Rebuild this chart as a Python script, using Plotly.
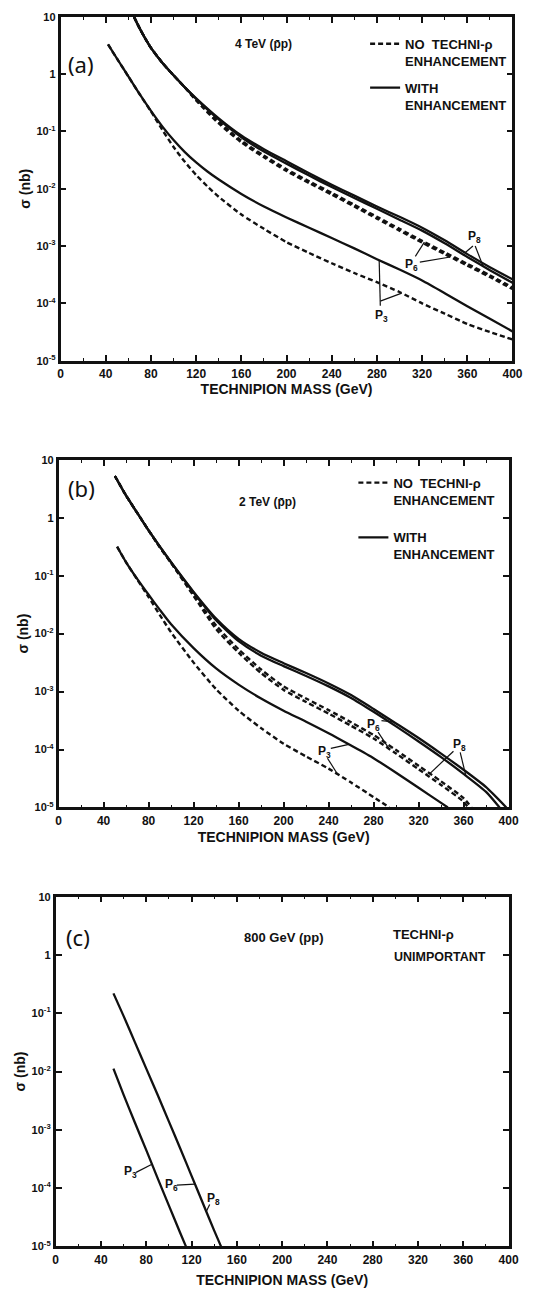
import numpy as np
import plotly.graph_objects as go

# ---------------- data: technipion pair cross sections, sigma in nb vs mass in GeV
# (a) 4 TeV  pbar-p
mass_a_hi = [65, 70, 75, 80, 90, 100, 110, 120, 140, 160, 180, 200, 220, 240, 260, 280, 300, 320, 340,
             360, 380, 400]
sig_a_p8_with = [10, 6.31, 4.17, 2.88, 1.585, 0.955, 0.589, 0.380, 0.170, 0.0851, 0.0490, 0.0302, 0.0186,
                 0.0117, 0.00759, 0.00490, 0.00324, 0.00209, 0.00126, 7.24e-4, 4.27e-4, 2.63e-4]
sig_a_p6_with = [10, 6.31, 4.17, 2.88, 1.585, 0.955, 0.589, 0.372, 0.162, 0.0794, 0.0447, 0.0275, 0.0170,
                 0.0107, 0.00692, 0.00447, 0.00288, 0.00186, 0.00112, 6.46e-4, 3.80e-4, 2.29e-4]
sig_a_p8_no = [10, 6.31, 4.17, 2.88, 1.585, 0.955, 0.589, 0.355, 0.148, 0.0692, 0.0380, 0.0219, 0.0135,
               0.00851, 0.00525, 0.00324, 0.00200, 0.00123, 7.76e-4, 4.90e-4, 3.09e-4, 1.91e-4]
sig_a_p6_no = [10, 6.31, 4.17, 2.88, 1.585, 0.955, 0.589, 0.347, 0.138, 0.0646, 0.0355, 0.0204, 0.0126,
               0.00794, 0.00490, 0.00302, 0.00186, 0.00115, 7.24e-4, 4.57e-4, 2.88e-4, 1.78e-4]
mass_a_lo = [42, 50, 60, 70, 80, 90, 100, 110, 120, 130, 140, 160, 180, 200, 220, 240, 260, 280, 300, 320,
             340, 360, 380, 400]
sig_a_p3_with = [3.31, 1.86, 0.912, 0.447, 0.229, 0.123, 0.0708, 0.0437, 0.0288, 0.0200, 0.0145, 0.00813,
                 0.00490, 0.00316, 0.00209, 0.00138, 9.12e-4, 5.89e-4, 3.89e-4, 2.51e-4, 1.51e-4, 8.91e-5,
                 5.37e-5, 3.24e-5]
sig_a_p3_no = [3.31, 1.86, 0.912, 0.447, 0.224, 0.107, 0.0537, 0.0295, 0.0174, 0.0110, 0.00724, 0.00355,
               0.00200, 0.00117, 7.59e-4, 5.01e-4, 3.39e-4, 2.34e-4, 1.58e-4, 1.00e-4, 6.61e-5, 4.37e-5,
               3.16e-5, 2.34e-5]

# (b) 2 TeV  pbar-p
mass_b_p8_with = [50, 60, 70, 80, 90, 100, 120, 140, 160, 180, 200, 220, 240, 260, 280, 300, 320, 340, 360,
                  380, 398]
sig_b_p8_with = [5.25, 2.40, 1.20, 0.603, 0.316, 0.170, 0.0525, 0.0182, 0.00813, 0.00468, 0.00309, 0.00209,
                 0.00138, 8.71e-4, 5.01e-4, 2.82e-4, 1.58e-4, 8.51e-5, 4.47e-5, 2.24e-5, 1.0e-5]
mass_b_p6_with = [50, 60, 70, 80, 90, 100, 120, 140, 160, 180, 200, 220, 240, 260, 280, 300, 320, 340, 360,
                  380, 392]
sig_b_p6_with = [5.25, 2.40, 1.20, 0.603, 0.316, 0.170, 0.0513, 0.0170, 0.00741, 0.00417, 0.00275, 0.00186,
                 0.00123, 7.76e-4, 4.47e-4, 2.51e-4, 1.38e-4, 7.41e-5, 3.80e-5, 1.86e-5, 1.0e-5]
mass_b_p8_no = [50, 60, 70, 80, 90, 100, 120, 140, 160, 180, 200, 220, 240, 260, 280, 300, 320, 340, 360, 367]
sig_b_p8_no = [5.25, 2.40, 1.20, 0.603, 0.309, 0.166, 0.0468, 0.0138, 0.00537, 0.00240, 0.00123, 7.59e-4,
               4.79e-4, 2.95e-4, 1.78e-4, 9.77e-5, 5.25e-5, 2.82e-5, 1.45e-5, 1.0e-5]
mass_b_p6_no = [50, 60, 70, 80, 90, 100, 120, 140, 160, 180, 200, 220, 240, 260, 280, 300, 320, 340, 360, 364]
sig_b_p6_no = [5.25, 2.40, 1.20, 0.603, 0.309, 0.166, 0.0447, 0.0120, 0.00468, 0.00209, 0.00107, 6.61e-4,
               4.17e-4, 2.57e-4, 1.55e-4, 8.51e-5, 4.57e-5, 2.45e-5, 1.26e-5, 1.0e-5]
mass_b_p3_with = [52, 60, 70, 80, 90, 100, 120, 140, 160, 180, 200, 220, 240, 260, 280, 300, 320, 340, 346]
sig_b_p3_with = [0.316, 0.170, 0.0871, 0.0468, 0.0257, 0.0145, 0.00562, 0.00251, 0.00132, 7.59e-4, 4.68e-4,
                 3.02e-4, 1.91e-4, 1.17e-4, 7.08e-5, 3.98e-5, 2.19e-5, 1.20e-5, 1.0e-5]
mass_b_p3_no = [52, 60, 70, 80, 90, 100, 120, 140, 160, 180, 200, 220, 240, 260, 280, 294]
sig_b_p3_no = [0.316, 0.170, 0.0851, 0.0427, 0.0209, 0.0105, 0.00316, 0.00110, 4.68e-4, 2.34e-4, 1.26e-4,
               7.59e-5, 4.68e-5, 2.69e-5, 1.51e-5, 1.0e-5]

# (c) 800 GeV  p-p
mass_c_p8 = [51, 60, 70, 80, 90, 100, 110, 120, 130, 140, 146]
sig_c_p8 = [0.219, 0.0891, 0.0316, 0.0112, 0.00398, 0.00138, 4.79e-4, 1.62e-4, 5.50e-5, 1.86e-5, 1.0e-5]
mass_c_p3 = [51, 60, 70, 80, 90, 100, 110, 115]
sig_c_p3 = [0.0112, 0.00398, 0.00132, 4.47e-4, 1.48e-4, 5.01e-5, 1.70e-5, 1.0e-5]

# axis labelling
mass_ticks = list(range(0, 401, 40))
sigma_ticks = [10, 1, 1e-1, 1e-2, 1e-3, 1e-4, 1e-5]
sigma_ticktext = ["10", "1", "10<sup>-1</sup>", "10<sup>-2</sup>", "10<sup>-3</sup>",
                  "10<sup>-4</sup>", "10<sup>-5</sup>"]

# ---------------- styling
W, H = 542, 1292
FONT = "Liberation Sans, Arial, sans-serif"
HAND = "Noto Sans, DejaVu Sans, sans-serif"
INK = "#111111"
SOLID = dict(color=INK, width=2.3, shape="spline", smoothing=0.6)
DASHED = dict(color=INK, width=2.4, dash="5px,3px", shape="spline", smoothing=0.6)
THIN = dict(color=INK, width=1.2)

# frame boxes in pixels: (left, right, top, bottom, x-title standoff)
boxes = {
    1: (59, 522, 11, 358, 0),
    2: (57, 518, 458, 809, 6),
    3: (54, 518, 899, 1252, 10),
}

fig = go.Figure()


def axes(k):
    s = "" if k == 1 else str(k)
    return f"x{s}", f"y{s}"


def lg(xs, ys, m):
    """log10 of a curve at mass m (interpolated in log space)."""
    return float(np.interp(m, xs, np.log10(ys)))


def add_curve(k, xs, ys, line, name=None, legend=None, group=None):
    xa, ya = axes(k)
    fig.add_trace(go.Scatter(
        x=xs, y=ys, mode="lines", line=line, xaxis=xa, yaxis=ya,
        name=name or "", showlegend=name is not None, legend=legend,
        legendgroup=group, hoverinfo="skip"))


NO_LABEL = "NO  TECHNI-ρ<br>ENHANCEMENT"
WITH_LABEL = "WITH<br>ENHANCEMENT"

# panel (a)
add_curve(1, mass_a_hi, sig_a_p8_no, DASHED, NO_LABEL, "legend", "no")
add_curve(1, mass_a_hi, sig_a_p8_with, SOLID, WITH_LABEL, "legend", "with")
add_curve(1, mass_a_hi, sig_a_p6_with, SOLID)
add_curve(1, mass_a_hi, sig_a_p6_no, DASHED)
add_curve(1, mass_a_lo, sig_a_p3_with, SOLID)
add_curve(1, mass_a_lo, sig_a_p3_no, DASHED)
# panel (b)
add_curve(2, mass_b_p8_no, sig_b_p8_no, DASHED, NO_LABEL, "legend2", "no")
add_curve(2, mass_b_p8_with, sig_b_p8_with, SOLID, WITH_LABEL, "legend2", "with")
add_curve(2, mass_b_p6_with, sig_b_p6_with, SOLID)
add_curve(2, mass_b_p6_no, sig_b_p6_no, DASHED)
add_curve(2, mass_b_p3_with, sig_b_p3_with, SOLID)
add_curve(2, mass_b_p3_no, sig_b_p3_no, DASHED)
# panel (c)
add_curve(3, mass_c_p8, sig_c_p8, SOLID)
add_curve(3, mass_c_p3, sig_c_p3, SOLID)

xtick_font = dict(family=FONT, size=12, color=INK, weight="bold")
ytick_font = dict(family=FONT, size=11, color=INK, weight="bold")
title_font = dict(family=FONT, size=14, color=INK, weight="bold")
layout = {}
for k, (l, r, t, b, so) in boxes.items():
    sx = "" if k == 1 else str(k)
    layout[f"xaxis{sx}"] = dict(
        domain=[l / W, r / W], range=[0, 400], anchor=f"y{sx}",
        tickvals=mass_ticks, ticks="inside", ticklen=6, tickwidth=1.6, tickcolor=INK,
        minor=dict(dtick=20, ticks="inside", ticklen=3, tickwidth=1, tickcolor=INK),
        showline=True, linewidth=2.6, linecolor=INK, mirror="allticks",
        showgrid=False, zeroline=False, tickfont=xtick_font,
        title=dict(text="TECHNIPION MASS (GeV)", font=title_font, standoff=so))
    layout[f"yaxis{sx}"] = dict(
        domain=[1 - b / H, 1 - t / H], type="log", range=[-5, 1], anchor=f"x{sx}",
        tickvals=sigma_ticks, ticktext=sigma_ticktext,
        ticks="inside", ticklen=6, tickwidth=1.6, tickcolor=INK,
        showline=True, linewidth=2.6, linecolor=INK, mirror="allticks",
        showgrid=False, zeroline=False, tickfont=ytick_font,
        title=dict(text="σ (nb)", font=title_font, standoff=3))

legend_style = dict(font=dict(family=FONT, size=13, color=INK, weight="bold"),
                    bgcolor="rgba(0,0,0,0)", itemwidth=30, valign="top",
                    traceorder="grouped", xanchor="left", yanchor="top")

fig.update_layout(
    width=W, height=H, margin=dict(l=0, r=0, t=0, b=0),
    paper_bgcolor="white", plot_bgcolor="white",
    font=dict(family=FONT, color=INK),
    legend=dict(x=371 / W, y=1 - 23 / H, tracegroupgap=7, **legend_style),
    legend2=dict(x=359 / W, y=1 - 466 / H, tracegroupgap=18, **legend_style),
    **layout)

ann = []


def text(k, x, y, s, size=12, bold=True, fam=FONT, xanchor="center"):
    xa, ya = axes(k)
    ann.append(dict(xref=xa, yref=ya, x=x, y=y, text=s, showarrow=False, xanchor=xanchor,
                    font=dict(family=fam, size=size, color=INK,
                              weight="bold" if bold else "normal")))


def leader(k, start, target):
    """Thin line from near a label to a point on a curve (log10 coordinates)."""
    xa, ya = axes(k)
    fig.add_trace(go.Scatter(x=[start[0], target[0]], y=[10 ** start[1], 10 ** target[1]],
                             mode="lines", line=THIN, xaxis=xa, yaxis=ya,
                             showlegend=False, hoverinfo="skip"))


def on(xs, ys, m):
    return (m, lg(xs, ys, m))


P3, P6, P8 = "P<sub>3</sub>", "P<sub>6</sub>", "P<sub>8</sub>"

# panel (a)
text(1, 18, 0.18, "(a)", size=22, bold=False, fam=HAND)
text(1, 180, 0.52, "4 TeV (p̄p)")
text(1, 366, -2.84, P8)
leader(1, (365, -3.00), on(mass_a_hi, sig_a_p8_with, 358))
leader(1, (367, -3.00), on(mass_a_hi, sig_a_p6_with, 374))
text(1, 311, -3.33, P6)
leader(1, (314, -3.18), on(mass_a_hi, sig_a_p8_no, 322))
leader(1, (318, -3.28), on(mass_a_hi, sig_a_p6_no, 345))
text(1, 284, -4.22, P3)
leader(1, (283, -4.04), on(mass_a_lo, sig_a_p3_with, 282))
leader(1, (283, -3.96), on(mass_a_lo, sig_a_p3_no, 302))
# panel (b)
text(2, 20, 0.52, "(b)", size=22, bold=False, fam=HAND)
text(2, 186, 0.27, "2 TeV (p̄p)")
text(2, 280, -3.58, P6)
leader(2, (287, -3.50), on(mass_b_p8_with, sig_b_p8_with, 298))
leader(2, (284, -3.70), on(mass_b_p6_no, sig_b_p6_no, 294))
text(2, 356, -3.92, P8)
leader(2, (351, -4.03), on(mass_b_p8_no, sig_b_p8_no, 330))
leader(2, (357, -4.05), on(mass_b_p6_with, sig_b_p6_with, 362))
text(2, 236, -4.05, P3)
leader(2, (242, -3.98), on(mass_b_p3_with, sig_b_p3_with, 258))
leader(2, (239, -4.15), on(mass_b_p3_no, sig_b_p3_no, 248))
# panel (c)
text(3, 20, 0.30, "(c)", size=22, bold=False, fam=HAND)
text(3, 201, 0.30, "800 GeV (pp)", size=13)
text(3, 296, 0.35, "TECHNI-ρ", size=13, xanchor="left")
text(3, 297, -0.04, "UNIMPORTANT", size=12.5, xanchor="left")
text(3, 66, -3.73, P3)
leader(3, (71, -3.73), on(mass_c_p3, sig_c_p3, 85))
text(3, 102, -3.95, P6)
leader(3, (107, -3.95), on(mass_c_p8, sig_c_p8, 123))
text(3, 139, -4.18, P8)
leader(3, (136, -4.28), on(mass_c_p8, sig_c_p8, 133))

fig.update_layout(annotations=ann)
fig.write_html("out.html")
